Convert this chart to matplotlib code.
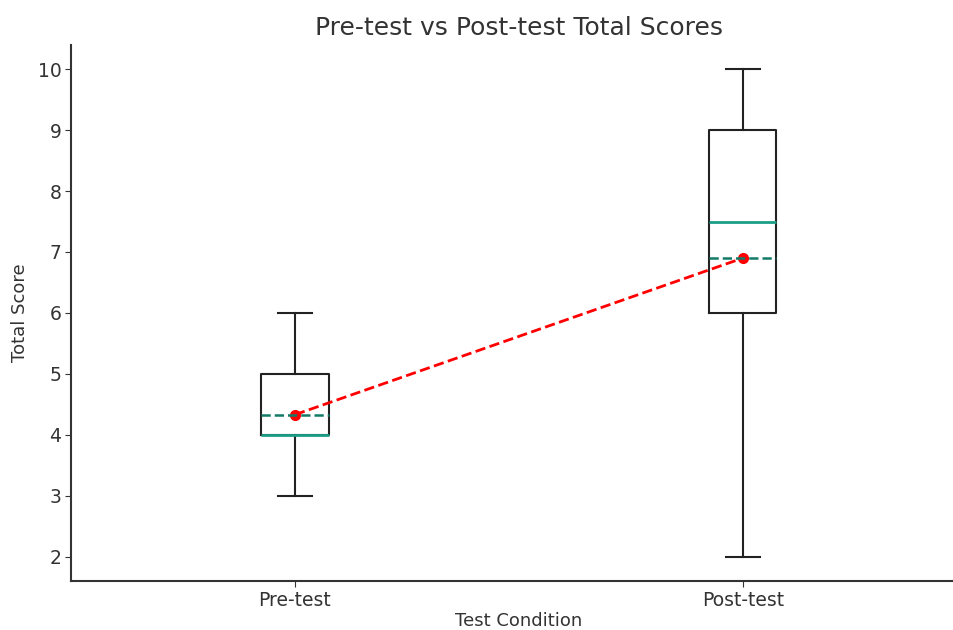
import matplotlib
matplotlib.use("Agg")
import matplotlib.pyplot as plt

# summary values
labels = ["Pre-test", "Post-test"]
whislo = [3, 2]
q1 = [4, 6]
med = [4, 7.5]
q3 = [5, 9]
whishi = [6, 10]
means = [4.33, 6.9]

stats = []
for i in range(len(labels)):
    stats.append(dict(label=labels[i], whislo=whislo[i], q1=q1[i], med=med[i],
                      q3=q3[i], whishi=whishi[i], mean=means[i], fliers=[]))

fig = plt.figure(figsize=(9.54, 6.3), dpi=100)
ax = fig.add_axes([0.0744, 0.0778, 0.939, 0.851])

ax.bxp(stats, positions=[1, 2], showmeans=True, meanline=True,
       boxprops=dict(color="#222222", linewidth=1.5),
       whiskerprops=dict(color="#222222", linewidth=1.5),
       capprops=dict(color="#222222", linewidth=1.5),
       medianprops=dict(color="#1b9e85", linewidth=2),
       meanprops=dict(color="#137a68", linewidth=1.8, linestyle="--"))

ax.plot([1, 2], means, color="red", linestyle="--", linewidth=2,
        marker="o", markersize=7)

ax.set_xlim(0.5, 2.5)
ax.set_ylim(1.6, 10.4)
ax.set_title("Pre-test vs Post-test Total Scores", fontsize=18, color="#333333", pad=7)
ax.set_xlabel("Test Condition", fontsize=13, color="#333333", labelpad=2)
ax.set_ylabel("Total Score", fontsize=13, color="#333333", labelpad=6)
ax.tick_params(labelsize=13.5, colors="#333333", length=4, pad=3)
for s in ["top", "right"]:
    ax.spines[s].set_visible(False)
for s in ["left", "bottom"]:
    ax.spines[s].set_linewidth(1.5)
    ax.spines[s].set_color("#333333")

fig.savefig("out.png", dpi=100)
